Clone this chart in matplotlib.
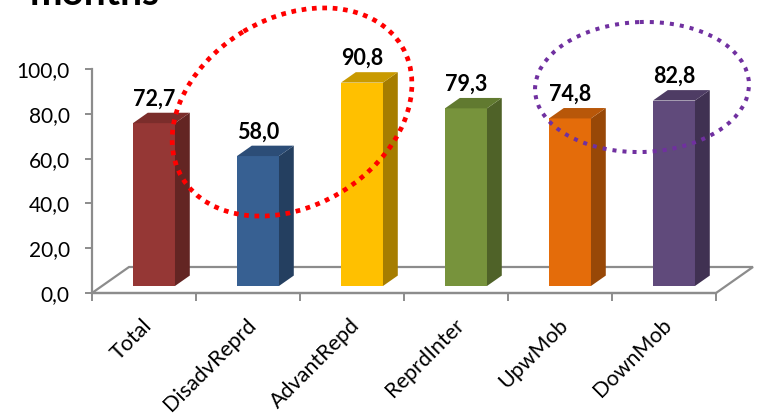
import numpy as np
import matplotlib
matplotlib.use('Agg')
import matplotlib.pyplot as plt
from matplotlib.patches import Polygon, Ellipse
from matplotlib.ticker import FuncFormatter, FixedLocator

plt.rcParams['font.family'] = ['Lato', 'DejaVu Sans']

# data
categories = ['Total', 'DisadvReprd', 'AdvantRepd', 'ReprdInter', 'UpwMob', 'DownMob']
values = [72.7, 58.0, 90.8, 79.3, 74.8, 82.8]
yticks = [0, 20, 40, 60, 80, 100]

# face colours: front, side, top
front_col = ['#953735', '#376092', '#FFC000', '#77933C', '#E46C0A', '#604A7B']
side_col = ['#632523', '#243F60', '#A67D00', '#4F6228', '#984807', '#403152']
top_col = ['#7B2D2B', '#2C4D77', '#C99A00', '#617A30', '#B85709', '#4E3C64']

W, H = 757, 413
fig = plt.figure(figsize=(W / 100, H / 100), dpi=100)

# axes box in pixels: x 92..716, y 69..293 (from top)
ax = fig.add_axes([92 / W, (H - 293) / H, (716 - 92) / W, (293 - 69) / H])
ax.set_xlim(0, 6)
ax.set_ylim(0, 100)

pxx = (716 - 92) / 6.0     # pixels per category
pxy = (293 - 69) / 100.0   # pixels per value unit

# floor depth vector (37 px right, 26 px up)
Dx, Dy = 37 / pxx, 26 / pxy
f_front = 0.27   # bar front plane position inside floor depth
f_depth = 0.40   # bar thickness in depth
bw = 42 / pxx    # bar width

grey = '#8C8C8C'

# floor
floor = Polygon([(0, 0), (6, 0), (6 + Dx, Dy), (Dx, Dy)], closed=True,
                facecolor='white', edgecolor=grey, lw=1.6, clip_on=False, zorder=1)
ax.add_patch(floor)

# bars
for i, v in enumerate(values):
    x0 = i + 0.5 - bw / 2 + f_front * Dx
    y0 = f_front * Dy
    ddx, ddy = f_depth * Dx, f_depth * Dy
    front = Polygon([(x0, y0), (x0 + bw, y0), (x0 + bw, y0 + v), (x0, y0 + v)],
                    facecolor=front_col[i], edgecolor='none', clip_on=False, zorder=3)
    side = Polygon([(x0 + bw, y0), (x0 + bw + ddx, y0 + ddy),
                    (x0 + bw + ddx, y0 + v + ddy), (x0 + bw, y0 + v)],
                   facecolor=side_col[i], edgecolor='none', clip_on=False, zorder=3)
    top = Polygon([(x0, y0 + v), (x0 + bw, y0 + v), (x0 + bw + ddx, y0 + v + ddy),
                   (x0 + ddx, y0 + v + ddy)],
                  facecolor=top_col[i], edgecolor='none', clip_on=False, zorder=3)
    for p in (front, side, top):
        ax.add_patch(p)
    ax.annotate(f'{v:.1f}'.replace('.', ','), xy=(x0 + bw / 2, y0 + v + ddy),
                xytext=(0, 7), textcoords='offset pixels', ha='center', va='baseline',
                fontsize=15.5, fontweight='bold', color='black', zorder=5,
                annotation_clip=False)

# category labels
for i, c in enumerate(categories):
    ax.annotate(c, xy=(i + 0.5, 0), xytext=(5, -29), textcoords='offset pixels',
                ha='right', va='center', rotation=45, rotation_mode='anchor',
                fontsize=15.5, color='black', annotation_clip=False)

# axes styling
for s in ['top', 'right']:
    ax.spines[s].set_visible(False)
ax.spines['left'].set_color(grey)
ax.spines['bottom'].set_color(grey)
ax.spines['left'].set_linewidth(1.6)
ax.spines['bottom'].set_linewidth(1.6)
ax.set_yticks(yticks)
ax.yaxis.set_major_formatter(FuncFormatter(lambda y, p: f'{y:.1f}'.replace('.', ',')))
ax.xaxis.set_major_locator(FixedLocator(np.arange(0, 7)))
ax.set_xticklabels([])
ax.tick_params(axis='y', direction='out', length=5, width=1.4, color=grey,
               pad=11, labelsize=15)
ax.tick_params(axis='x', direction='out', length=6, width=1.4, color=grey)
ax.patch.set_alpha(0)

# overlay in pixel space for the highlight rings and the heading
ov = fig.add_axes([0, 0, 1, 1])
ov.set_xlim(0, W)
ov.set_ylim(H, 0)
ov.axis('off')
ov.patch.set_alpha(0)
ring1 = Ellipse((292, 112), 256, 188, angle=-31, fill=False, edgecolor='#FF0000',
                lw=3.4, linestyle=(0, (1, 1.2)), zorder=6)
ring1.set_capstyle('butt')
ov.add_patch(ring1)
ring2 = Ellipse((642, 87), 214, 130, angle=-2, fill=False, edgecolor='#7030A0',
                lw=2.9, linestyle=(0, (1, 1.5)), zorder=6)
ring2.set_capstyle('butt')
ov.add_patch(ring2)
ov.text(30, 5, 'months', fontsize=28, fontweight='bold', color='black',
        ha='left', va='baseline')

fig.savefig('out.png', dpi=100)
